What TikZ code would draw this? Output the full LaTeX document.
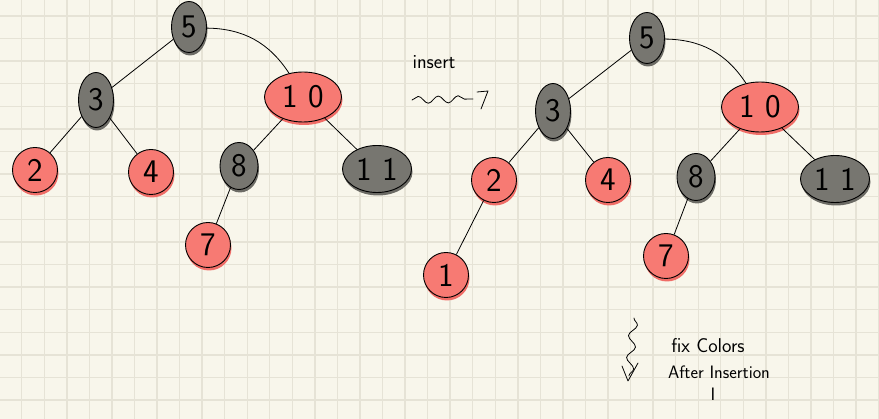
\documentclass[tikz,border=0pt]{standalone}
\usetikzlibrary{shapes.geometric,shadows,decorations.pathmorphing}
\definecolor{bg}{HTML}{F8F6EB}
\definecolor{gridc}{HTML}{E6E3D6}
\definecolor{ngray}{HTML}{777670}
\definecolor{ngrayS}{HTML}{6C6B65}
\definecolor{nred}{HTML}{F77A73}
\definecolor{nredS}{HTML}{F06D67}
\begin{document}
\begin{tikzpicture}[x=1pt,y=-1pt,
  nodebase/.style={draw=black, line width=0.9pt, inner sep=0pt, font=\sffamily\fontsize{33}{33}\selectfont},
  blknode/.style={nodebase, fill=ngray, general shadow={fill=ngrayS, shadow xshift=1pt, shadow yshift=-3pt}},
  rednode/.style={nodebase, fill=nred, general shadow={fill=nredS, shadow xshift=1pt, shadow yshift=-3pt}},
  oval/.style={ellipse, minimum width=35pt, minimum height=51pt},
  tall/.style={ellipse, minimum width=35pt, minimum height=55pt},
  mid/.style={ellipse, minimum width=38pt, minimum height=47pt},
  circ/.style={circle, minimum size=45pt},
  wide/.style={ellipse, minimum width=77pt, minimum height=50pt},
  wider/.style={ellipse, minimum width=69pt, minimum height=47pt},
  edge/.style={line width=0.8pt},
  note/.style={font=\sffamily\fontsize{20}{20}\selectfont},
  smallnote/.style={font=\sffamily\fontsize{18}{18}\selectfont},
  scribble/.style={line width=0.8pt, line cap=round, line join=round}]
% background and grid
\fill[bg] (0,0) rectangle (879,419);
\useasboundingbox (0,0) rectangle (879,419);
\foreach \k in {0,...,38} {\draw[gridc, line width=1.4pt] ({21.7+22.55*\k},0) -- ({21.7+22.55*\k},419);}
\foreach \k in {0,...,17} {\draw[gridc, line width=1.4pt] (0,{16+22.6*\k}) -- (879,{16+22.6*\k});}

% left tree
\node[blknode, oval] (l5) at (189,27) {5};
\node[blknode, tall] (l3) at (96,100) {3};
\node[rednode, circ] (l2) at (35,170) {2};
\node[rednode, circ] (l4) at (151,172) {4};
\node[rednode, wide] (l10) at (303,97) {1\hspace{10pt}0};
\node[blknode, mid] (l8) at (239,166) {8};
\node[rednode, circ] (l7) at (208,245) {7};
\node[blknode, wider] (l11) at (377,169) {1\hspace{10pt}1};
\draw[edge] (l5) -- (l3);
\draw[edge] (l5) to[bend left=28] (l10);
\draw[edge] (l3) -- (l2);
\draw[edge] (l3) -- (l4);
\draw[edge] (l10) -- (l8);
\draw[edge] (l10) -- (l11);
\draw[edge] (l8) -- (l7);

% right tree
\node[blknode, oval] (r5) at (647,38) {5};
\node[blknode, tall] (r3) at (553,111) {3};
\node[rednode, circ] (r2) at (494,180) {2};
\node[rednode, circ] (r4) at (608,180) {4};
\node[rednode, circ] (r1) at (446,275) {1};
\node[rednode, wide] (r10) at (760,107) {1\hspace{10pt}0};
\node[blknode, mid] (r8) at (696,177) {8};
\node[rednode, circ] (r7) at (666,256) {7};
\node[blknode, wider] (r11) at (835,179) {1\hspace{10pt}1};
\draw[edge] (r5) -- (r3);
\draw[edge] (r5) to[bend left=28] (r10);
\draw[edge] (r3) -- (r2);
\draw[edge] (r3) -- (r4);
\draw[edge] (r2) -- (r1);
\draw[edge] (r10) -- (r8);
\draw[edge] (r10) -- (r11);
\draw[edge] (r8) -- (r7);

% insert arrow
\node[note] (ins) at (434,62) {insert};
\coordinate (w1) at (412,100);
\coordinate (w2) at (473,99);
\coordinate (h1) at (477,92);
\coordinate (h2) at (488,91);
\coordinate (h3) at (481,109);
\draw[scribble, decorate, decoration={snake, amplitude=3.5pt, segment length=20pt}] (w1) -- (w2);
\draw[scribble] (h1) -- (h2) -- (h3);

% fix colors note
\coordinate (s1) at (634,318);
\coordinate (s2) at (629,376);
\coordinate (a1) at (622,366);
\coordinate (a2) at (628,381);
\coordinate (a3) at (638,363);
\draw[scribble, decorate, decoration={snake, amplitude=4pt, segment length=22pt}] (s1) -- (s2);
\draw[scribble] (a1) -- (a2) -- (a3);
\node[note] (fix) at (708,346) {fix Colors};
\node[smallnote] (after) at (719,372) {After Insertion};
\node[smallnote] (one) at (713,394) {I};
\end{tikzpicture}
\end{document}
